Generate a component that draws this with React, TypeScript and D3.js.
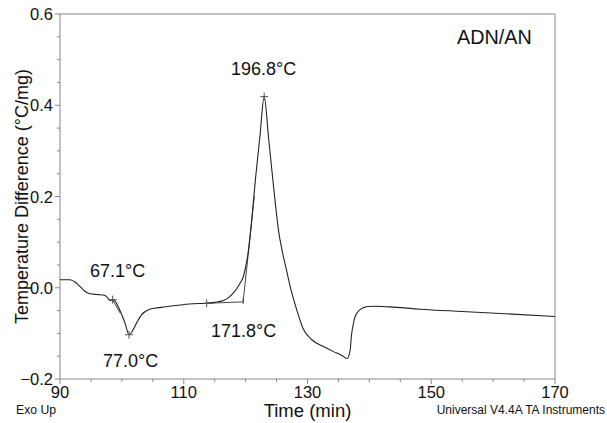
import React from "react";
import * as d3 from "d3";

// DSC trace, ADN/AN
const timeMin = [90, 91.6, 92.5, 93.2, 94.0, 94.6, 95.4, 96.2, 97.0, 97.5, 98.1, 98.6, 99.4, 100.0, 100.5, 101.15, 101.6, 102.1, 102.6, 103.2, 104.3, 105.3, 106.4, 108.6, 111.5, 113.7, 115.0, 116.4, 117.3, 118.0, 118.6, 119.1, 119.6, 119.9, 120.4, 121.0, 121.6, 122.3, 123.0, 123.7, 124.3, 124.8, 125.3, 126.0, 126.6, 127.2, 128.3, 129.3, 130.7, 132.6, 134.2, 135.5, 136.4, 136.9, 137.1, 137.4, 137.7, 138.5, 139.2, 139.8, 141.0, 143.3, 148.2, 155, 162, 170];
const tempDiff = [0.0175, 0.0175, 0.012, 0.003, -0.007, -0.012, -0.014, -0.015, -0.016, -0.019, -0.028, -0.026, -0.041, -0.06, -0.077, -0.103, -0.097, -0.085, -0.072, -0.059, -0.048, -0.045, -0.043, -0.039, -0.035, -0.034, -0.032, -0.028, -0.021, -0.012, -0.001, 0.01, 0.023, 0.039, 0.076, 0.15, 0.24, 0.33, 0.419, 0.33, 0.25, 0.185, 0.127, 0.075, 0.039, 0.003, -0.05, -0.09, -0.114, -0.129, -0.14, -0.148, -0.155, -0.136, -0.105, -0.08, -0.063, -0.048, -0.043, -0.041, -0.0405, -0.042, -0.047, -0.052, -0.057, -0.063];

// analysis markers (t, value) and their labels
const markerT = [98.5, 101.15, 113.7, 123.0];
const markerV = [-0.026, -0.103, -0.034, 0.419];
const onsetT = 119.6;
const onsetV = -0.031;

const xTicks = [90, 110, 130, 150, 170];
const yTicks = [-0.2, 0.0, 0.2, 0.4, 0.6];

const W = 607, H = 423;
const left = 60, right = 555, top = 14, bottom = 379;

export default function App() {
  const x = d3.scaleLinear().domain([90, 170]).range([left, right]);
  const y = d3.scaleLinear().domain([-0.2, 0.6]).range([bottom, top]);
  const pts: [number, number][] = timeMin.map((t, i) => [t, tempDiff[i]]);
  const line = d3.line<[number, number]>()
    .x(d => x(d[0]))
    .y(d => y(d[1]))
    .curve(d3.curveMonotoneX);

  const minorX = d3.range(90, 170.01, 5);
  const minorY = d3.range(-0.2, 0.601, 0.05);
  const axisCol = "#888";
  const font = "Arial, 'Liberation Sans', sans-serif";

  const cross = (cx: number, cy: number, k: number) => (
    <g key={k} stroke="#555" strokeWidth={1}>
      <line x1={cx - 4} x2={cx + 4} y1={cy} y2={cy} />
      <line x1={cx} x2={cx} y1={cy - 4} y2={cy + 4} />
    </g>
  );

  return (
    <svg width={W} height={H} style={{ position: "absolute", left: 0, top: 0, background: "#fff" }} fontFamily={font}>
      {/* frame */}
      <rect x={left} y={top} width={right - left} height={bottom - top} fill="none" stroke={axisCol} strokeWidth={1} />
      {minorX.map(t => (
        <line key={"mx" + t} x1={x(t)} x2={x(t)} y1={bottom} y2={bottom + (xTicks.includes(Math.round(t)) ? 5 : 3)} stroke={axisCol} />
      ))}
      {minorY.map((v, i) => (
        <line key={"my" + i} x1={left - (i % 4 === 0 ? 5 : 3)} x2={left} y1={y(v)} y2={y(v)} stroke={axisCol} />
      ))}
      {xTicks.map(t => (
        <text key={"xt" + t} x={x(t)} y={398} fontSize={16.5} textAnchor="middle" fill="#111">{t}</text>
      ))}
      {yTicks.map(v => (
        <text key={"yt" + v} x={53} y={y(v) + 6} fontSize={16.5} textAnchor="end" fill="#111">{d3.format(".1f")(v)}</text>
      ))}
      <text x={(left + right) / 2} y={417} fontSize={18.5} textAnchor="middle" fill="#111">Time (min)</text>
      <text transform={`translate(28,${(top + bottom) / 2}) rotate(-90)`} fontSize={18} textAnchor="middle" fill="#111">Temperature Difference (°C/mg)</text>
      <text x={16} y={414} fontSize={12.2} fill="#111">Exo Up</text>
      <text x={605} y={414} fontSize={12} textAnchor="end" fill="#111">Universal V4.4A TA Instruments</text>
      <text x={457} y={44} fontSize={19.8} fill="#111">ADN/AN</text>

      {/* construction lines */}
      <g stroke="#444" strokeWidth={1} fill="none">
        <line x1={x(markerT[2])} y1={y(markerV[2])} x2={x(onsetT)} y2={y(onsetV)} />
        <line x1={x(onsetT)} y1={y(onsetV)} x2={x(121.4)} y2={y(0.2)} />
        <line x1={x(onsetT)} y1={y(onsetV) - 4} x2={x(onsetT)} y2={y(onsetV) + 2} />
        <line x1={x(markerT[0])} y1={y(markerV[0])} x2={x(99.7)} y2={y(-0.055)} />
      </g>

      <path d={line(pts) || ""} fill="none" stroke="#222" strokeWidth={1.1} />
      {markerT.map((t, i) => cross(x(t), y(markerV[i]), i))}

      <g fontSize={18} fill="#111">
        <text x={90} y={277}>67.1°C</text>
        <text x={103} y={367}>77.0°C</text>
        <text x={211} y={337}>171.8°C</text>
        <text x={231} y={75}>196.8°C</text>
      </g>
    </svg>
  );
}
